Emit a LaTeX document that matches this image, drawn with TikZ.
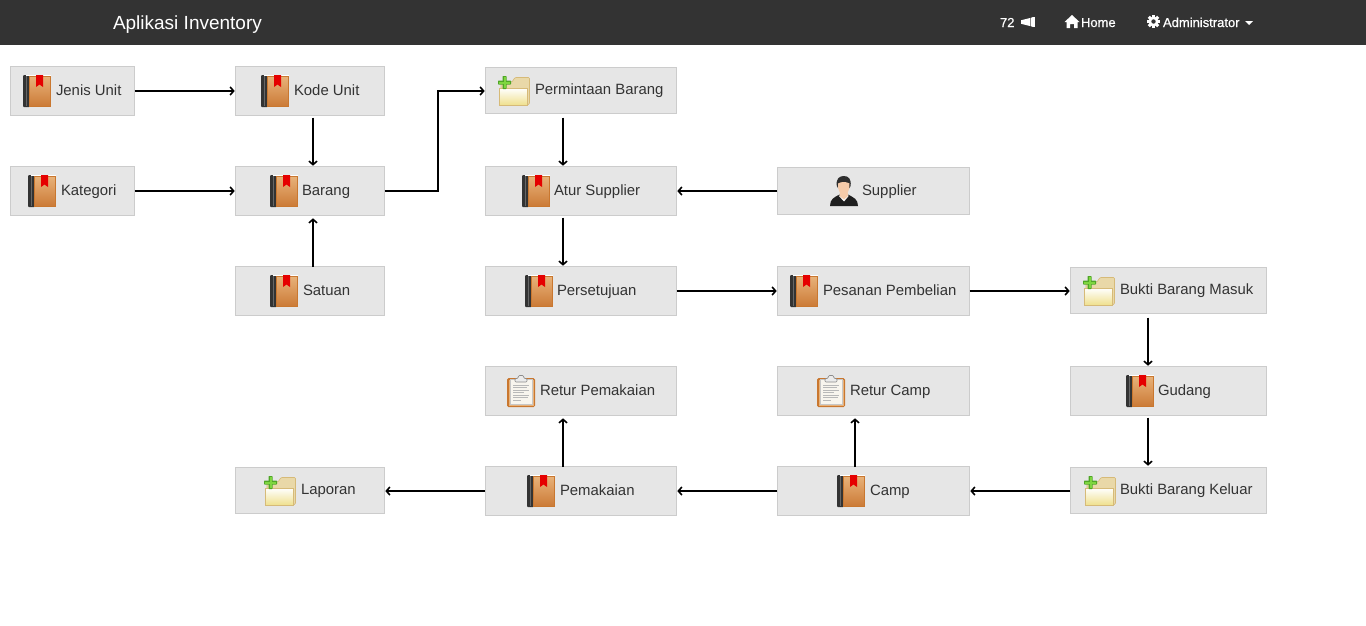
\documentclass[tikz,border=0pt]{standalone}
\usepackage{fontspec}
\setmainfont{Liberation Sans}
\newfontfamily\navfont[FakeBold=0.6]{Liberation Sans}
\usetikzlibrary{arrows.meta,calc}
\definecolor{boxfill}{HTML}{E6E6E6}
\definecolor{boxline}{HTML}{CCCCCC}
\definecolor{navbg}{HTML}{333333}
\definecolor{txt}{HTML}{333333}
\definecolor{orangeA}{HTML}{E8B27A}
\definecolor{orangeB}{HTML}{CB7A36}
\definecolor{orangeL}{HTML}{C9772F}
\definecolor{foldA}{HTML}{E9D8A8}
\definecolor{foldL}{HTML}{D6BA78}
\definecolor{foldB}{HTML}{EFE08E}
\definecolor{skin}{HTML}{F5CBAA}
\definecolor{plusA}{HTML}{4FA626}
\definecolor{plusB}{HTML}{7ED63F}
\definecolor{paper}{HTML}{F8F5EE}
\tikzset{
  x=1pt,y=-1pt,
  flowbox/.style={draw=boxline,fill=boxfill,line width=1pt,inner sep=0pt,outer sep=0pt,anchor=north west},
  lbl/.style={anchor=base west,inner sep=0pt,outer sep=0pt,text=txt,font=\fontsize{14.9}{16}\selectfont},
  navlbl/.style={anchor=base west,inner sep=0pt,outer sep=0pt,text=white,font=\navfont\fontsize{13}{15}\selectfont},
  flow/.style={line width=2pt,black,shorten >=.8pt,-{Straight Barb[length=3.5pt,width=8pt,line width=1.6pt]}},
  pics/book/.style={code={
    \fill[black!80,rounded corners=1pt] (0,0) rectangle (7,32);
    \fill[black!60] (2.5,1) rectangle (3.5,31);
    \shade[top color=orangeA,bottom color=orangeB,draw=orangeL,line width=.8pt] (6,1.2) rectangle (27.6,31.4);
    \fill[white] (3,0) rectangle (28,1.2);
    \fill[red!90!black] (13,0) -- (20,0) -- (20,12) -- (16.5,9.5) -- (13,12) -- cycle;
  }},
  pics/folderadd/.style={code={
    \fill[rounded corners=1pt,fill=foldA,draw=foldL,line width=.6pt] (3,29) -- (3,6) -- (14,6) -- (17,1.5) -- (31.5,1.5) -- (31.5,28) -- (29,29) -- cycle;
    \shade[top color=white,bottom color=foldB,draw=foldL,line width=.6pt] (1,12) -- (29,12) -- (29,29) -- (1,29) -- cycle;
    \fill[plusA,rounded corners=.7pt] (4.5,0) rectangle (8.5,13);
    \fill[plusA,rounded corners=.7pt] (0,4.5) rectangle (13,8.5);
    \fill[plusB] (5.5,1) rectangle (7.5,12);
    \fill[plusB] (1,5.5) rectangle (12,7.5);
  }},
  pics/clipboard/.style={code={
    \fill[orangeL,rounded corners=1.5pt] (0,3) rectangle (28,32);
    \fill[orangeA] (1.5,4.5) rectangle (26.5,30.5);
    \fill[paper,draw=black!22,line width=.4pt] (3,4) rectangle (25,29.5);
    \foreach \yy/\ee in {10/22,12.5/20,15/22,17.5/17,20/22,22.5/21,25/14}{\draw[black!28,line width=.8pt] (6,\yy) -- (\ee,\yy);}
    \fill[black!8,draw=black!45,line width=.6pt,rounded corners=1pt] (8,7) -- (8,3.5) -- (11,3.5) -- (11.5,.5) -- (16.5,.5) -- (17,3.5) -- (20,3.5) -- (20,7) -- cycle;
  }},
  pics/person/.style={code={
    \fill[black!88] (0,30) .. controls (0,23) and (4,21.5) .. (9.5,18.5) -- (18,18.5) .. controls (23.5,21.5) and (28,23) .. (28,30) -- cycle;
    \fill[white] (8.5,19.5) -- (14,25.5) -- (19,19.5) -- cycle;
    \fill[skin] (10,14) -- (17.5,14) -- (18,20) -- (14,23.5) -- (9.5,20) -- cycle;
    \fill[black!82] (6.8,10) .. controls (5.8,3) and (9,0) .. (13.8,0) .. controls (18.5,0) and (21.5,3) .. (20.6,10) -- (19.5,12) -- (8,12) -- cycle;
    \fill[skin] (8,7.5) .. controls (11,5.5) and (16.5,5.5) .. (19.5,7.5) .. controls (20,13) and (18,18) .. (13.8,19.5) .. controls (9.5,18) and (7.5,13) .. (8,7.5) -- cycle;
  }},
}
\newcommand{\bx}[5]{\pgfmathsetmacro{\bw}{#4-1}\pgfmathsetmacro{\bh}{#5-1}\pgfmathsetmacro{\bl}{#2+.5}\pgfmathsetmacro{\bt}{#3+.5}\node[flowbox,minimum width=\bw pt,minimum height=\bh pt] (#1) at (\bl,\bt) {};}
\newcommand{\tx}[4]{\node[lbl] (#1) at (#2,#3) {#4};}
\begin{document}
\begin{tikzpicture}
\useasboundingbox (0,0) rectangle (1366,625);
\fill[white] (0,0) rectangle (1366,625);
\fill[navbg] (0,0) rectangle (1366,45);
% navbar
\node[navlbl,font=\fontsize{19}{21}\selectfont] (title) at (113,29) {Aplikasi Inventory};
\node[navlbl] (count) at (1000,27) {72};
\node[navlbl] (home) at (1081,27) {Home};
\node[navlbl] (admin) at (1163,27) {Administrator};
\fill[white] (1022,20) -- (1030,18) -- (1030,26) -- (1022,24) -- cycle;
\fill[white] (1021,20) rectangle (1023,24);
\fill[white] (1033,17) rectangle (1035,27);
\fill[white] (1030.5,18) -- (1033,17) -- (1033,27) -- (1030.5,26) -- cycle;
\fill[white] (1072,15) -- (1079.5,22) -- (1077.5,22) -- (1077.5,28) -- (1074,28) -- (1074,24) -- (1070,24) -- (1070,28) -- (1066.5,28) -- (1066.5,22) -- (1064.5,22) -- cycle;
\fill[white] (1153.5,21.5) circle [radius=5];
\foreach \a in {0,45,...,315}{\fill[white,rotate around={\a:(1153.5,21.5)}] (1152,14.8) rectangle (1155,18);}
\fill[navbg] (1153.5,21.5) circle [radius=2.2];
\fill[white] (1245,21) -- (1253,21) -- (1249,25) -- cycle;
% boxes
\bx{jenis}{10}{66}{125}{50}
\bx{kode}{235}{66}{150}{50}
\bx{kategori}{10}{166}{125}{50}
\bx{barang}{235}{166}{150}{50}
\bx{satuan}{235}{266}{150}{50}
\bx{minta}{485}{67}{192}{47}
\bx{atur}{485}{166}{192}{50}
\bx{supplier}{777}{167}{193}{48}
\bx{setuju}{485}{266}{192}{50}
\bx{pesan}{777}{266}{193}{50}
\bx{masuk}{1070}{267}{197}{47}
\bx{gudang}{1070}{366}{197}{50}
\bx{keluar}{1070}{467}{197}{47}
\bx{returp}{485}{366}{192}{50}
\bx{returc}{777}{366}{193}{50}
\bx{laporan}{235}{467}{150}{47}
\bx{pakai}{485}{466}{192}{50}
\bx{camp}{777}{466}{193}{50}
% icons
\foreach \p/\q in {23/75,261/75,28/175,270/175,270/275,522/175,525/275,790/275,1126/375,527/475,837/475}{\pic at (\p,\q) {book};}
\foreach \p/\q in {498/76,1083/276,1084/476,264/476}{\pic at (\p,\q) {folderadd};}
\foreach \p/\q in {507/375,817/375}{\pic at (\p,\q) {clipboard};}
\pic at (830,176) {person};
% labels
\tx{jenisT}{56}{95}{Jenis Unit}
\tx{kodeT}{294}{95}{Kode Unit}
\tx{kategoriT}{61}{195}{Kategori}
\tx{barangT}{302}{195}{Barang}
\tx{satuanT}{303}{295}{Satuan}
\tx{mintaT}{535}{94}{Permintaan Barang}
\tx{aturT}{554}{195}{Atur Supplier}
\tx{supplierT}{862}{195}{Supplier}
\tx{setujuT}{557}{295}{Persetujuan}
\tx{pesanT}{823}{295}{Pesanan Pembelian}
\tx{masukT}{1120}{294}{Bukti Barang Masuk}
\tx{gudangT}{1158}{395}{Gudang}
\tx{keluarT}{1120}{494}{Bukti Barang Keluar}
\tx{returpT}{540}{395}{Retur Pemakaian}
\tx{returcT}{850}{395}{Retur Camp}
\tx{laporanT}{301}{494}{Laporan}
\tx{pakaiT}{560}{495}{Pemakaian}
\tx{campT}{870}{495}{Camp}
% connectors
\draw[flow] (jenis.east) -- (kode.west);
\draw[flow] (kategori.east) -- (barang.west);
\draw[flow] ([xshift=3pt,yshift=-2pt]kode.south) -- ([xshift=3pt]barang.north);
\draw[flow] ([xshift=3pt,yshift=-.5pt]satuan.north) -- ([xshift=3pt,yshift=-2pt]barang.south);
\draw[flow] (barang.east) -- ++(53,0) |- ([yshift=-.5pt]minta.west);
\draw[flow] ([xshift=-18pt,yshift=-4pt]minta.south) -- ([xshift=-18pt]atur.north);
\draw[flow] ([xshift=-.5pt]supplier.west) -- (supplier.west -| atur.east);
\draw[flow] ([xshift=-18pt,yshift=-2pt]atur.south) -- ([xshift=-18pt]setuju.north);
\draw[flow] (setuju.east) -- (pesan.west);
\draw[flow] (pesan.east) -- (pesan.east -| masuk.west);
\draw[flow] ([xshift=-20.5pt,yshift=-4pt]masuk.south) -- ([xshift=-20.5pt]gudang.north);
\draw[flow] ([xshift=-20.5pt,yshift=-2pt]gudang.south) -- ([xshift=-20.5pt,yshift=1pt]keluar.north);
\draw[flow] ([xshift=-.5pt]camp.east -| keluar.west) -- (camp.east);
\draw[flow] ([xshift=-.5pt]camp.west) -- (pakai.east);
\draw[flow] ([xshift=-.5pt]pakai.west) -- (pakai.west -| laporan.east);
\draw[flow] ([xshift=-18pt,yshift=-.5pt]pakai.north) -- ([xshift=-18pt,yshift=-2pt]returp.south);
\draw[flow] ([xshift=-18.5pt,yshift=-.5pt]camp.north) -- ([xshift=-18.5pt,yshift=-2pt]returc.south);
\end{tikzpicture}
\end{document}
